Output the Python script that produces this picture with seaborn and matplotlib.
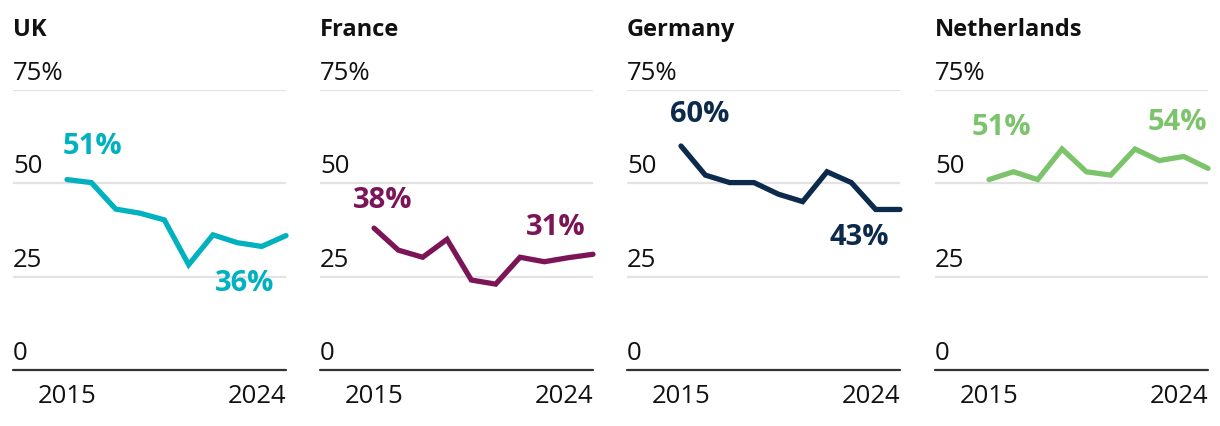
import numpy as np
import pandas as pd
import matplotlib
matplotlib.use('Agg')
import matplotlib.pyplot as plt
import seaborn as sns

# --- data ---
years = list(range(2015, 2025))
countries = ['UK', 'France', 'Germany', 'Netherlands']
uk = [51, 50.2, 43.1, 42.0, 40.2, 28.2, 36.2, 34.1, 33.1, 36]
france = [38, 32.1, 30.2, 35.0, 24.1, 23.0, 30.2, 29.0, 30.1, 31]
germany = [60, 52.2, 50.2, 50.2, 47.1, 45.1, 53.1, 50.2, 43, 43]
netherlands = [51, 53.1, 51.0, 59.2, 53.1, 52.2, 59.2, 56.1, 57.2, 54]
series = [uk, france, germany, netherlands]
y_ticks = [0, 25, 50, 75]
y_tick_labels = ['0', '25', '50', '75%']
x_ticks = [2015, 2024]

colors = ['#00b1bf', '#7b1558', '#0b2a4c', '#7cc46b']
# label offsets in pixels (first label, last label)
first_off = [(25, 33), (9, 28), (19, 31), (12, 52)]
last_off = [(-12, -48), (-7, 27), (-11, -28), (-1, 46)]

df = pd.DataFrame({
    'year': years * len(countries),
    'value': [v for s in series for v in s],
    'country': [c for c in countries for _ in years],
})

sns.set_style('white')
plt.rcParams['font.family'] = ['Open Sans', 'DejaVu Sans']

W, H = 1220, 426
fig = plt.figure(figsize=(W / 100, H / 100), dpi=100)
PT = 0.72  # px -> pt at dpi 100

lefts = [13, 320, 627, 935]
ax_w = 273
ax_bottom, ax_top = 370, 90

for i, country in enumerate(countries):
    ax = fig.add_axes([lefts[i] / W, (H - ax_bottom) / H, ax_w / W, (ax_bottom - ax_top) / H])
    sub = df[df['country'] == country]
    sns.lineplot(data=sub, x='year', y='value', ax=ax, color=colors[i], lw=3.8,
                 solid_joinstyle='miter', solid_capstyle='round', clip_on=False)

    ax.set_xlim(2012.78, 2024)
    ax.set_ylim(0, 75)
    for v in y_ticks[1:]:
        ax.axhline(v, color='#e3e3e3', lw=1.6, zorder=0)
    ax.axhline(0, color='#333333', lw=1.6, zorder=1, clip_on=False)
    for sp in ax.spines.values():
        sp.set_visible(False)

    ax.set_yticks([])
    for v, lbl in zip(y_ticks, y_tick_labels):
        ax.annotate(lbl, xy=(0, v), xycoords=('axes fraction', 'data'),
                    xytext=(0, 16.5 * PT), textcoords='offset points',
                    ha='left', va='center', fontsize=18.5, color='#111111')

    ax.set_xticks(x_ticks)
    ax.set_xticklabels([str(x) for x in x_ticks], fontsize=18.5, color='#111111')
    ax.get_xticklabels()[-1].set_horizontalalignment('right')
    ax.tick_params(axis='x', length=0, pad=10)
    ax.set_xlabel('')
    ax.set_ylabel('')

    ax.annotate(country, xy=(0, 1), xycoords='axes fraction',
                xytext=(0, 60 * PT), textcoords='offset points',
                ha='left', va='center', fontsize=17, fontweight='bold', color='#111111')

    vals = series[i]
    ax.annotate(f'{vals[0]:.0f}%', xy=(years[0], vals[0]),
                xytext=(first_off[i][0] * PT, first_off[i][1] * PT), textcoords='offset points',
                ha='center', va='center', fontsize=21, fontweight='bold', color=colors[i])
    ax.annotate(f'{vals[-1]:.0f}%', xy=(years[-1], vals[-1]),
                xytext=(last_off[i][0] * PT, last_off[i][1] * PT), textcoords='offset points',
                ha='right', va='center', fontsize=21, fontweight='bold', color=colors[i])

fig.savefig('out.png', dpi=100, facecolor='white')
